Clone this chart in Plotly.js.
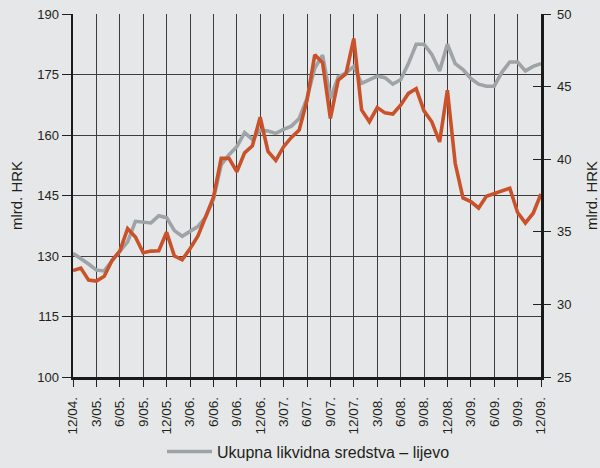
<!DOCTYPE html>
<html>
<head>
<meta charset="utf-8">
<script src="https://cdn.plot.ly/plotly-3.0.1.min.js"></script>
<style>
  html, body { margin: 0; padding: 0; background: #e6e7e8; }
  #chart { width: 600px; height: 468px; }
</style>
</head>
<body>
<div id="chart"></div>
<script>
// Monthly observations, 12/2004 - 12/2009
const months = [
  "12/04.","1/05.","2/05.","3/05.","4/05.","5/05.","6/05.","7/05.","8/05.","9/05.","10/05.","11/05.",
  "12/05.","1/06.","2/06.","3/06.","4/06.","5/06.","6/06.","7/06.","8/06.","9/06.","10/06.","11/06.",
  "12/06.","1/07.","2/07.","3/07.","4/07.","5/07.","6/07.","7/07.","8/07.","9/07.","10/07.","11/07.",
  "12/07.","1/08.","2/08.","3/08.","4/08.","5/08.","6/08.","7/08.","8/08.","9/08.","10/08.","11/08.",
  "12/08.","1/09.","2/09.","3/09.","4/09.","5/09.","6/09.","7/09.","8/09.","9/09.","10/09.","11/09.",
  "12/09."
];

// Quarterly tick labels on the x axis
const tickLabels = [
  "12/04.","3/05.","6/05.","9/05.","12/05.","3/06.","6/06.","9/06.","12/06.","3/07.","6/07.",
  "9/07.","12/07.","3/08.","6/08.","9/08.","12/08.","3/09.","6/09.","9/09.","12/09."
];

// Ukupna likvidna sredstva (left axis, mlrd. HRK)
const ukupnaLikvidna = [
  130.7,129.4,128.0,126.5,126.3,128.8,131.0,133.5,138.6,138.4,138.2,140.0,
  139.5,136.3,134.9,136.1,137.3,139.6,144.0,152.6,155.1,157.1,160.6,158.9,
  161.2,161.0,160.4,161.4,162.2,164.1,169.1,176.6,179.8,169.1,174.4,175.4,
  177.0,172.8,173.7,174.6,174.2,172.6,173.7,177.7,182.5,182.5,180.0,175.9,
  182.5,177.7,176.2,174.0,172.6,172.1,172.1,175.6,178.1,178.1,175.9,177.0,
  177.7
];

// Second series (right axis, mlrd. HRK)
const desnaSerija = [
  32.33,32.50,31.67,31.61,31.94,33.03,33.67,35.22,34.64,33.56,33.67,33.69,
  34.97,33.33,33.08,33.83,34.69,35.97,37.36,40.06,40.06,39.14,40.44,40.92,
  42.89,40.53,39.92,40.86,41.50,42.00,44.06,47.19,46.64,42.81,45.44,45.89,
  48.31,43.39,42.58,43.56,43.19,43.11,43.72,44.53,44.86,43.33,42.58,41.19,
  44.75,39.72,37.33,37.08,36.64,37.44,37.61,37.83,38.00,36.33,35.61,36.28,
  37.61
];

const legendLeft = "Ukupna likvidna sredstva – lijevo";
const axisTitle = "mlrd. HRK";

const FONT = "Liberation Sans, Arial, sans-serif";
const TXT = "#231f20";
const GRID = "#3d3d3d";

const traces = [
  {
    x: months, y: ukupnaLikvidna, type: "scatter", mode: "lines",
    name: legendLeft, yaxis: "y",
    line: { color: "#9ea3a6", width: 3.6 },
    hoverinfo: "skip"
  },
  {
    x: months, y: desnaSerija, type: "scatter", mode: "lines",
    name: "desno", yaxis: "y2", showlegend: false,
    line: { color: "#c9522b", width: 3.6 },
    hoverinfo: "skip"
  },
  {
    x: months, y: desnaSerija, type: "scatter", mode: "lines",
    yaxis: "y3", showlegend: false, opacity: 0,
    line: { color: "rgba(0,0,0,0)", width: 0 },
    hoverinfo: "skip"
  }
];

const layout = {
  width: 600, height: 468,
  paper_bgcolor: "#e6e7e8",
  plot_bgcolor: "#e6e7e8",
  margin: { l: 73, r: 59, t: 14, b: 91, pad: 0, autoexpand: false },
  font: { family: FONT, size: 13, color: TXT },
  showlegend: true,
  legend: {
    orientation: "h",
    xref: "container", yref: "container",
    x: 0.27, xanchor: "left",
    y: 0.035, yanchor: "middle",
    itemwidth: 45,
    bgcolor: "rgba(0,0,0,0)",
    font: { family: FONT, size: 16, color: TXT }
  },
  xaxis: {
    type: "category", automargin: false,
    categoryorder: "array", categoryarray: months,
    range: [0, months.length - 1],
    tickmode: "array", tickvals: tickLabels, ticktext: tickLabels,
    tickangle: -90,
    ticks: "outside", ticklen: 7, tickwidth: 1, tickcolor: "#222",
    ticklabelstandoff: 5,
    showgrid: true, gridcolor: GRID, gridwidth: 1,
    showline: true, linecolor: "#1a1a1a", linewidth: 2.5,
    tickfont: { family: FONT, size: 13.5, color: TXT },
    zeroline: false, fixedrange: true
  },
  yaxis: {
    automargin: false,
    range: [100, 190], tickmode: "linear", tick0: 100, dtick: 15,
    ticks: "outside", ticklen: 9, tickwidth: 1, tickcolor: "#222",
    showgrid: true, gridcolor: GRID, gridwidth: 1,
    showline: true, linecolor: "#1a1a1a", linewidth: 2.5,
    tickfont: { family: FONT, size: 13, color: TXT },
    title: { text: axisTitle, font: { family: FONT, size: 15, color: TXT }, standoff: 11 },
    zeroline: false, fixedrange: true
  },
  yaxis2: {
    overlaying: "y", side: "right", automargin: false,
    range: [25, 50], tickmode: "linear", tick0: 25, dtick: 5,
    ticks: "outside", ticklen: 7, tickwidth: 1, tickcolor: "#222",
    ticklabelstandoff: 4,
    showgrid: false,
    showline: true, linecolor: "#1a1a1a", linewidth: 2.5,
    tickfont: { family: FONT, size: 13, color: TXT },
    title: { text: axisTitle, font: { family: FONT, size: 15, color: TXT }, standoff: 22 },
    zeroline: false, fixedrange: true
  },
  yaxis3: {
    overlaying: "y", side: "right", anchor: "x", automargin: false,
    range: [25, 50], tickmode: "linear", tick0: 25, dtick: 5,
    ticks: "inside", ticklen: 8, tickwidth: 1, tickcolor: "#222",
    showticklabels: false, showgrid: false, showline: false,
    zeroline: false, fixedrange: true
  }
};

Plotly.newPlot("chart", traces, layout, { displayModeBar: false, staticPlot: true });
</script>
</body>
</html>
